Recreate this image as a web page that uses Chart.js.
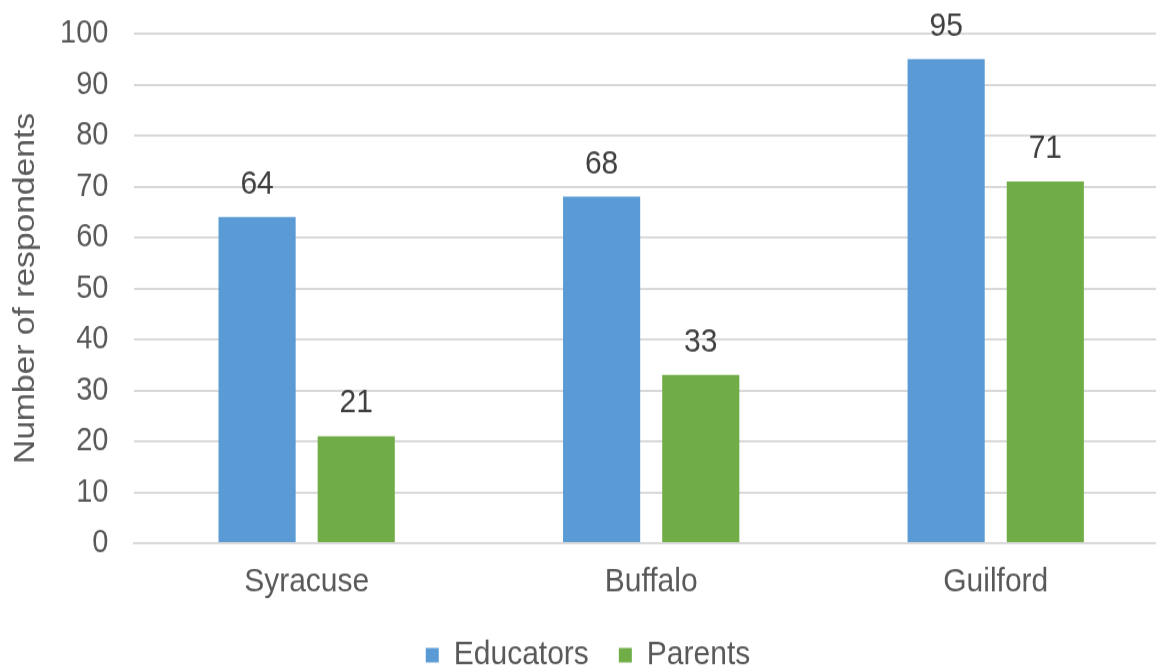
<!DOCTYPE html>
<html>
<head>
<meta charset="utf-8">
<title>Respondents by site</title>
<script src="https://cdn.jsdelivr.net/npm/chart.js"></script>
<style>
  html, body { margin: 0; padding: 0; background: #fff; overflow: hidden; }
  #wrap { width: 1156px; height: 669px; overflow: hidden; }
  /* chart is drawn a bit shorter and stretched up to full height */
  #myChart { display: block; transform: scaleY(1.12); transform-origin: 0 0; }
</style>
</head>
<body>
<div id="wrap"><canvas id="myChart" width="1168" height="597"></canvas></div>
<script>
'use strict'

let sites = ['Syracuse', 'Buffalo', 'Guilford'];
let educators = [64, 68, 95];
let parents = [21, 33, 71];
let yTicks = [0, 10, 20, 30, 40, 50, 60, 70, 80, 90, 100];

let textColor = '#595959';
let fontFamily = '"Liberation Sans", Arial, sans-serif';

// writes each bar's value above it
let valueLabels = {
    id: 'valueLabels',
    afterDatasetsDraw(chart) {
        let ctx = chart.ctx;
        ctx.save();
        ctx.font = '30px ' + fontFamily;
        ctx.fillStyle = '#404040';
        ctx.textAlign = 'center';
        ctx.textBaseline = 'alphabetic';
        chart.data.datasets.forEach(function (ds, i) {
            chart.getDatasetMeta(i).data.forEach(function (bar, j) {
                ctx.fillText(ds.data[j], bar.x, bar.y - 21);
            });
        });
        ctx.restore();
    }
};

// nudge the legend row a little to the right
let legendShift = {
    id: 'legendShift',
    afterLayout(chart) {
        chart.legend.left += 2;
        chart.legend.right += 2;
    }
};

let ctx = document.getElementById('myChart').getContext('2d');
let chart = new Chart(ctx, {
    type: 'bar',
    data: {
        labels: sites,
        datasets: [{
            label: 'Educators',
            backgroundColor: '#5b9bd5',
            data: educators,
        }, {
            label: 'Parents',
            backgroundColor: '#70ad47',
            data: parents,
        }]
    },
    options: {
        responsive: false,
        animation: false,
        devicePixelRatio: 1,
        categoryPercentage: 0.5756,
        barPercentage: 0.778,
        layout: { padding: { top: 30, right: 0, left: 4, bottom: -13 } },
        plugins: {
            legend: {
                position: 'bottom',
                labels: {
                    color: textColor,
                    font: { size: 30, family: fontFamily },
                    boxWidth: 13,
                    boxHeight: 13,
                    padding: 30
                }
            },
            tooltip: { enabled: false }
        },
        scales: {
            x: {
                grid: { display: false },
                border: { color: '#d9d9d9', width: 2 },
                ticks: {
                    color: textColor,
                    padding: 9,
                    font: { size: 30, family: fontFamily }
                },
                afterFit(axis) {
                    axis.height -= 7;
                }
            },
            y: {
                min: 0,
                max: 100,
                afterBuildTicks(axis) {
                    axis.ticks = yTicks.map(v => ({ value: v }));
                },
                afterFit(axis) {
                    axis.width -= 14;
                    axis.paddingTop = 0;
                },
                grid: { color: '#d9d9d9', lineWidth: 2, drawTicks: false },
                border: { display: false },
                ticks: {
                    color: textColor,
                    padding: 26,
                    font: { size: 29, family: fontFamily }
                },
                title: {
                    display: true,
                    text: 'Number of respondents',
                    color: textColor,
                    padding: 4,
                    font: { size: 30, family: fontFamily }
                }
            }
        }
    },
    plugins: [valueLabels, legendShift]
});
</script>
</body>
</html>
